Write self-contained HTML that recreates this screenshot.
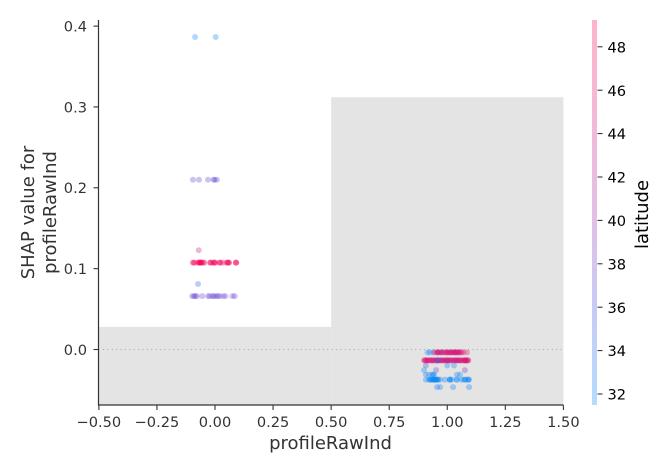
<!DOCTYPE html>
<html>
<head>
<meta charset="utf-8">
<style>
html,body{margin:0;padding:0;background:#fff;width:669px;height:473px;overflow:hidden}
svg{display:block}
text{font-family:"DejaVu Sans","Liberation Sans",sans-serif}
</style>
</head>
<body>
<svg id="chart" width="669" height="473" viewBox="0 0 669 473" xmlns="http://www.w3.org/2000/svg">
<defs>
<linearGradient id="cbar-grad" x1="0" y1="1" x2="0" y2="0">
<stop offset="0" stop-color="#b3dcfe"/>
<stop offset="0.25" stop-color="#c8cbf5"/>
<stop offset="0.5" stop-color="#e3bfe5"/>
<stop offset="0.75" stop-color="#f3b9d6"/>
<stop offset="1" stop-color="#ffb3cb"/>
</linearGradient>
</defs>
<g id="hist"></g>
<g id="zero"></g>
<g id="points"></g>
<g id="axes"></g>
<text x="330.5" y="449" font-size="18" fill="#333" text-anchor="middle">profileRawInd</text>
<text transform="translate(34,212.5) rotate(-90)" font-size="18" fill="#333" text-anchor="middle">SHAP value for</text>
<text transform="translate(56,212.5) rotate(-90)" font-size="18" fill="#333" text-anchor="middle">profileRawInd</text>
<rect x="592" y="20" width="5" height="385" fill="url(#cbar-grad)"/>
<g id="cbar-axis"></g>
<text transform="translate(648,214.5) rotate(-90)" font-size="18" fill="#000" text-anchor="middle">latitude</text>
</svg>
<script>
const xTicks = [-0.5, -0.25, 0, 0.25, 0.5, 0.75, 1, 1.25, 1.5];
const xTickLabels = ['\u22120.50', '\u22120.25', '0.00', '0.25', '0.50', '0.75', '1.00', '1.25', '1.50'];
const yTicks = [0, 0.1, 0.2, 0.3, 0.4];
const yTickLabels = ['0.0', '0.1', '0.2', '0.3', '0.4'];
const cbarTicks = [32, 34, 36, 38, 40, 42, 44, 46, 48];
const histEdges = [-0.5, 0.5, 1.5];
const histHeights = [0.028, 0.312];

const featureValues = [
 -0.086, 0.003,
 -0.095, -0.069, -0.03, -0.006, -0.002, 0.008,
 -0.07,
 -0.096, -0.09, -0.075, -0.07, -0.066, -0.065, -0.06, -0.055, -0.05, -0.02, -0.016, -0.005, 0.0, 0.02, 0.025, 0.05, 0.055, 0.06, 0.09, 0.092,
 -0.09, -0.065, -0.06, -0.045, -0.02, -0.005, 0.02, 0.055, 0.06, 0.09, 0.035, 0.0,
 -0.073,
 -0.098, -0.09, -0.085, -0.078, -0.055, -0.03, -0.022, -0.01, -0.005, 0.005, 0.012, 0.02, 0.035, 0.045, 0.075, 0.085,
 0.915, 0.925, 0.94, 0.955, 0.96, 0.97, 0.98, 0.99, 1.0, 1.01, 1.015, 1.03, 1.035, 1.04, 1.05, 1.06, 1.07, 1.085, 0.975, 1.02, 1.045, 0.96, 1.0, 1.03, 1.05, 0.945,
 0.96, 0.975, 0.99, 1.0, 1.01, 1.02, 1.03, 1.045, 1.06,
 0.9, 0.905, 0.915, 0.925, 0.935, 0.945, 0.955, 0.965, 0.975, 0.985, 0.995, 1.005, 1.015, 1.025, 1.035, 1.045, 1.055, 1.065, 1.075, 1.085, 1.09, 0.91, 0.93, 0.95, 0.97, 0.99, 1.01, 1.03, 1.05, 1.07, 1.08, 0.96, 1.0, 1.04, 1.08,
 0.905, 0.92, 0.94, 0.96, 0.98, 1.0, 1.02, 1.04, 1.06, 1.08, 1.09, 0.915, 0.935, 0.955, 0.975, 0.995, 1.015, 1.035, 1.055, 1.075,
 0.96, 1.0, 1.029,
 0.908, 0.952, 1.076,
 0.9, 0.921, 0.943, 1.042, 1.055, 0.935, 0.94,
 0.908, 0.921, 0.93, 0.94, 0.943, 0.95, 0.955, 0.96, 0.99, 1.012, 1.012, 1.042, 1.06, 1.076, 1.09, 0.93, 0.945, 1.094,
 0.925, 0.935, 0.945, 0.955, 0.96, 0.97, 1.01, 1.02, 1.04, 1.07, 1.08, 1.09,
 0.908, 0.956, 0.969, 1.025, 1.094
];
const shapValues = [
 0.3865, 0.3865,
 0.21, 0.21, 0.21, 0.21, 0.21, 0.21,
 0.1227,
 0.1075, 0.1075, 0.1075, 0.1075, 0.1075, 0.1075, 0.1075, 0.1075, 0.1075, 0.1075, 0.1075, 0.1075, 0.1075, 0.1075, 0.1075, 0.1075, 0.1075, 0.1075, 0.1075, 0.1075,
 0.1075, 0.1075, 0.1075, 0.1075, 0.1075, 0.1075, 0.1075, 0.1075, 0.1075, 0.1075, 0.1075, 0.1075,
 0.081,
 0.066, 0.066, 0.066, 0.066, 0.066, 0.066, 0.066, 0.066, 0.066, 0.066, 0.066, 0.066, 0.066, 0.066, 0.066, 0.066,
 -0.0035, -0.0035, -0.0035, -0.0035, -0.0035, -0.0035, -0.0035, -0.0035, -0.0035, -0.0035, -0.0035, -0.0035, -0.0035, -0.0035, -0.0035, -0.0035, -0.0035, -0.0035, -0.0035, -0.0035, -0.0035, -0.0035, -0.0035, -0.0035, -0.0035, -0.0035,
 -0.0035, -0.0035, -0.0035, -0.0035, -0.0035, -0.0035, -0.0035, -0.0035, -0.0035,
 -0.0135, -0.0135, -0.0135, -0.0135, -0.0135, -0.0135, -0.0135, -0.0135, -0.0135, -0.0135, -0.0135, -0.0135, -0.0135, -0.0135, -0.0135, -0.0135, -0.0135, -0.0135, -0.0135, -0.0135, -0.0135, -0.0135, -0.0135, -0.0135, -0.0135, -0.0135, -0.0135, -0.0135, -0.0135, -0.0135, -0.0135, -0.0135, -0.0135, -0.0135, -0.0135, -0.0135,
 -0.0135, -0.0135, -0.0135, -0.0135, -0.0135, -0.0135, -0.0135, -0.0135, -0.0135, -0.0135, -0.0135, -0.0135, -0.0135, -0.0135, -0.0135, -0.0135, -0.0135, -0.0135, -0.0135, -0.0135,
 -0.0198, -0.0198, -0.0198,
 -0.0255, -0.0255, -0.0255,
 -0.031, -0.031, -0.031, -0.031, -0.031, -0.031, -0.031,
 -0.0372, -0.0372, -0.0372, -0.0372, -0.0372, -0.0372, -0.0372, -0.0372, -0.0372, -0.0372, -0.0372, -0.0372, -0.0372, -0.0372, -0.0372, -0.0372, -0.0372, -0.0372,
 -0.0372, -0.0372, -0.0372, -0.0372, -0.0372, -0.0372, -0.0372, -0.0372, -0.0372, -0.0372, -0.0372, -0.0372,
 -0.0465, -0.0465, -0.0465, -0.0465, -0.0465
];
const latitudeValues = [
 32, 32,
 38, 38, 38, 38, 37, 38,
 44,
 48, 48, 48, 48, 48, 49, 49, 49, 48, 48, 48, 48, 48, 48, 48, 48, 48, 48, 48, 48,
 48, 48, 48, 48, 48, 48, 48, 48, 48, 48, 48, 48,
 34,
 38, 38, 38, 38, 38, 38, 38, 38, 38, 38, 38, 37, 38, 38, 38, 38,
 32, 32, 34, 47, 47, 40, 46, 47, 42, 47, 47, 47, 46, 38, 47, 46, 47, 46, 38, 40, 47, 47, 47, 47, 44, 44,
 47, 47, 47, 47, 44, 47, 47, 47, 47,
 47, 47, 47, 47, 47, 47, 46, 47, 47, 47, 47, 47, 47, 45, 44, 46, 47, 47, 47, 47, 47, 46, 46, 44, 47, 47, 46, 47, 47, 47, 47, 42, 40, 40, 44,
 47, 47, 47, 47, 47, 47, 47, 47, 47, 47, 47, 44, 44, 44, 44, 44, 44, 44, 44, 44,
 32, 32, 32,
 35, 36, 39,
 32, 32, 32, 32, 32, 32, 32,
 32, 32, 31.6, 31.6, 31.6, 31.6, 31.6, 31.6, 32, 32, 31.6, 31.6, 32, 31.6, 31.6, 31.6, 31.6, 31.6,
 31.6, 31.6, 31.6, 31.6, 31.6, 31.6, 31.6, 31.6, 31.6, 31.6, 31.6, 31.6,
 32, 32, 32, 32, 32
];

const NS = 'http://www.w3.org/2000/svg';
const xScale = v => 215 + v * 232.25;
const yScale = v => 349.5 - v * 808.5;
const cbarScale = v => 394 - (v - 32) * 21.7;
const latMin = 31.5;
const latMax = 49.2;
const make = (tag, attrs, parent) => {
  const el = document.createElementNS(NS, tag);
  for (const k in attrs) el.setAttribute(k, attrs[k]);
  parent.appendChild(el);
  return el;
};
const colorStops = [[0, 139, 251], [75, 90, 215], [110, 60, 205], [165, 45, 170], [220, 20, 120], [255, 0, 81]];
const latColor = v => {
  const t = Math.min(1, Math.max(0, (v - latMin) / (latMax - latMin))) * (colorStops.length - 1);
  const i = Math.min(colorStops.length - 2, Math.floor(t));
  const f = t - i;
  const c = colorStops[i].map((a, k) => Math.round(a + (colorStops[i + 1][k] - a) * f));
  return 'rgb(' + c.join(',') + ')';
};

const hist = document.getElementById('hist');
histHeights.forEach((h, i) => {
  const el = make('rect', {
    x: xScale(histEdges[i]), y: yScale(h),
    width: xScale(histEdges[i + 1]) - xScale(histEdges[i]),
    height: 405 - yScale(h), fill: '#e4e4e4'
  }, hist);
  
  
});

const zero = document.getElementById('zero');
const zeroLine = make('line', {
  x1: 98.5, x2: 563, y1: yScale(0), y2: yScale(0),
  stroke: '#999', 'stroke-width': 1, 'stroke-dasharray': '1 3.4', opacity: 0.8
}, zero);



const points = document.getElementById('points');
featureValues.forEach((xv, i) => {
  const el = make('circle', {
    cx: xScale(xv), cy: yScale(shapValues[i]), r: 3,
    fill: latColor(latitudeValues[i]), 'fill-opacity': 0.32
  }, points);
  
  
});

const axes = document.getElementById('axes');
const spineL = make('line', {x1: 98.5, x2: 98.5, y1: 20, y2: 405.6, stroke: '#333', 'stroke-width': 1.2}, axes);


const spineB = make('line', {x1: 98, x2: 563.5, y1: 405, y2: 405, stroke: '#333', 'stroke-width': 1.2}, axes);



xTicks.forEach((v, i) => {
  const x = xScale(v);
  const tick = make('line', {x1: x, x2: x, y1: 405, y2: 410, stroke: '#333', 'stroke-width': 1.1}, axes);
  
  
  const label = make('text', {x: x, y: 427, 'font-size': 14.6, fill: '#333', 'text-anchor': 'middle'}, axes);
  
  
  label.textContent = xTickLabels[i];
});

yTicks.forEach((v, i) => {
  const y = yScale(v);
  const tick = make('line', {x1: 93.5, x2: 98.5, y1: y, y2: y, stroke: '#333', 'stroke-width': 1.1}, axes);
  
  
  const label = make('text', {x: 87, y: y + 5.4, 'font-size': 14.6, fill: '#333', 'text-anchor': 'end'}, axes);
  
  
  label.textContent = yTickLabels[i];
});

const cbarAxis = document.getElementById('cbar-axis');
cbarTicks.forEach(v => {
  const y = cbarScale(v);
  const tick = make('line', {x1: 597.5, x2: 602.5, y1: y, y2: y, stroke: '#222', 'stroke-width': 1}, cbarAxis);
  
  
  const label = make('text', {x: 607.5, y: y + 5.6, 'font-size': 14.6, fill: '#000'}, cbarAxis);
  
  
  label.textContent = String(v);
});
</script>
</body>
</html>
